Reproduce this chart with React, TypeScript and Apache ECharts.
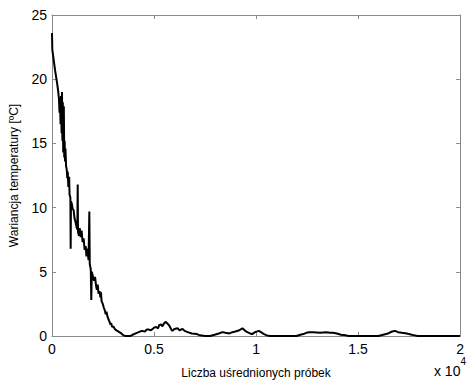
import React, { useEffect, useRef } from "react";
import * as echarts from "echarts";

// Number of averaged samples (x) and the resulting temperature variance (y)
const sampleCounts = [
  0, 15, 50, 100, 150, 200, 250, 300, 340, 370, 390, 420, 440, 470, 490, 510, 530, 550, 580, 600,
  620, 640, 660, 690, 720, 750, 770, 800, 840, 860, 900, 915, 930, 970, 1010, 1060, 1100, 1150,
  1200, 1240, 1260, 1275, 1320, 1360, 1400, 1450, 1500, 1550, 1600, 1650, 1690, 1740, 1790, 1830,
  1850, 1900, 1925, 1950, 2000, 2060, 2110, 2160, 2200, 2240, 2280, 2330, 2370, 2400, 2430, 2490,
  2540, 2590, 2630, 2670, 2720, 2770, 2820, 2860, 2900, 2950, 3000, 3100, 3200, 3300, 3400, 3500,
  3600, 3850, 3950, 4100, 4250, 4400, 4550, 4650, 4750, 4850, 5000, 5100, 5200, 5250, 5350, 5400,
  5500, 5580, 5700, 5750, 5850, 5900, 6000, 6150, 6250, 6400, 6500, 6650, 6850, 7100, 7250, 7500,
  7750, 7970, 8170, 8360, 8500, 8700, 8840, 8990, 9180, 9330, 9470, 9570, 9710, 9810, 9950, 10140,
  10240, 10390, 10530, 10680, 11500, 11980, 12170, 12320, 12460, 12610, 12800, 12950, 13140, 13290,
  13430, 13620, 13770, 13960, 14160, 14400, 14540, 15400, 15990, 16230, 16470, 16670, 16810, 16960,
  17150, 17390, 17630, 17780, 17920, 18740, 20000,
];

const variance = [
  23.6, 22.3, 21.9, 21.3, 20.7, 20.2, 19.7, 19.1, 18.5, 17.4, 18.3, 16.5, 18.7, 15.8, 19.0, 15.2, 18.2, 14.3, 17.9, 13.9,
  15.2, 13.6, 14.6, 13.2, 13.0, 12.3, 12.8, 11.6, 12.4, 11.0, 10.8, 6.8, 10.5, 10.3, 9.9, 9.8, 9.2, 8.9,
  8.5, 8.3, 11.8, 8.1, 7.8, 8.4, 7.7, 8.2, 7.3, 7.6, 6.7, 7.0, 6.2, 6.8, 5.9, 9.7,
  5.6, 5.2, 2.8, 5.0, 4.7, 4.3, 4.6, 3.9, 3.6, 4.0, 3.3, 3.5, 3.0, 3.4, 2.7, 2.5,
  2.2, 2.0, 1.7, 1.9, 1.5, 1.3, 1.1, 0.9, 1.0, 0.7, 0.75, 0.5, 0.4, 0.3, 0.2, 0.05,
  0, 0, 0.1, 0.2, 0.3, 0.4, 0.35, 0.5, 0.5, 0.45, 0.65, 0.7, 0.6, 0.85, 0.9, 0.75,
  1.0, 1.1, 0.9, 0.8, 0.5, 0.4, 0.55, 0.6, 0.45, 0.55, 0.4, 0.3, 0.2, 0.15, 0.05, 0,
  0, 0.1, 0.2, 0.3, 0.25, 0.2, 0.3, 0.35, 0.45, 0.6, 0.4, 0.3, 0.2, 0.15, 0.3, 0.4,
  0.3, 0.15, 0.05, 0, 0, 0, 0.1, 0.15, 0.25, 0.3, 0.3, 0.28, 0.25, 0.28,
  0.3, 0.25, 0.25, 0.2, 0.1, 0.05, 0, 0, 0, 0.1, 0.2, 0.35, 0.4, 0.3,
  0.25, 0.2, 0.1, 0.05, 0, 0, 0,
];

const yTicks = [0, 5, 10, 15, 20, 25];
const xTickStep = 5000;
const xScale = 10000;

const FONT = "Liberation Sans, Arial, sans-serif";
const FRAME = "#8a8a8a";

export default function App() {
  const ref = useRef<HTMLDivElement>(null);

  useEffect(() => {
    if (!ref.current) return;
    const chart = echarts.init(ref.current, undefined, { renderer: "svg" });
    const points = sampleCounts.map((x, i) => [x, variance[i]]);
    const frameAxis = {
      axisLine: { show: true, onZero: false, lineStyle: { color: FRAME, width: 1 } },
      axisTick: { show: true, inside: true, length: 4, lineStyle: { color: FRAME } },
      splitLine: { show: false },
    };
    chart.setOption({
      animation: false,
      backgroundColor: "#ffffff",
      textStyle: { fontFamily: FONT },
      grid: { left: 52, top: 15, width: 414, height: 322, containLabel: false },
      xAxis: [
        {
          type: "value",
          min: 0,
          max: 20000,
          interval: xTickStep,
          ...frameAxis,
          axisLabel: {
            color: "#000",
            fontSize: 14,
            fontFamily: FONT,
            margin: 6,
            showMinLabel: true,
            showMaxLabel: true,
            formatter: (v: number) => String(v / xScale),
          },
          name: "Liczba uśrednionych próbek",
          nameLocation: "middle",
          nameGap: 31,
          nameTextStyle: { color: "#000", fontSize: 12, fontFamily: FONT },
        },
        {
          type: "value",
          position: "top",
          min: 0,
          max: 20000,
          interval: xTickStep,
          ...frameAxis,
          axisLabel: { show: false },
        },
      ],
      yAxis: [
        {
          type: "value",
          min: yTicks[0],
          max: yTicks[yTicks.length - 1],
          interval: 5,
          ...frameAxis,
          axisLabel: { color: "#000", fontSize: 14, fontFamily: FONT, margin: 5 },
          name: "Wariancja temperatury [ºC]",
          nameLocation: "middle",
          nameGap: 32,
          nameTextStyle: { color: "#000", fontSize: 12, fontFamily: FONT },
        },
        {
          type: "value",
          position: "right",
          min: yTicks[0],
          max: yTicks[yTicks.length - 1],
          interval: 5,
          ...frameAxis,
          axisLabel: { show: false },
        },
      ],
      graphic: [
        {
          type: "text",
          right: 1,
          top: 356,
          style: {
            text: "{b|x 10}{s|4}",
            rich: {
              b: { fontSize: 14, fontFamily: FONT, fill: "#000", verticalAlign: "bottom", padding: [8, 0, 0, 0] },
              s: { fontSize: 10, fontFamily: FONT, fill: "#000", verticalAlign: "top" },
            },
          },
        },
      ],
      series: [
        {
          type: "line",
          data: points,
          xAxisIndex: 0,
          yAxisIndex: 0,
          showSymbol: false,
          clip: false,
          lineStyle: { color: "#000", width: 2 },
        },
      ],
    });
    return () => chart.dispose();
  }, []);

  return (
    <div
      ref={ref}
      style={{ position: "fixed", left: 0, top: 0, width: 467, height: 384, background: "#fff" }}
    />
  );
}
